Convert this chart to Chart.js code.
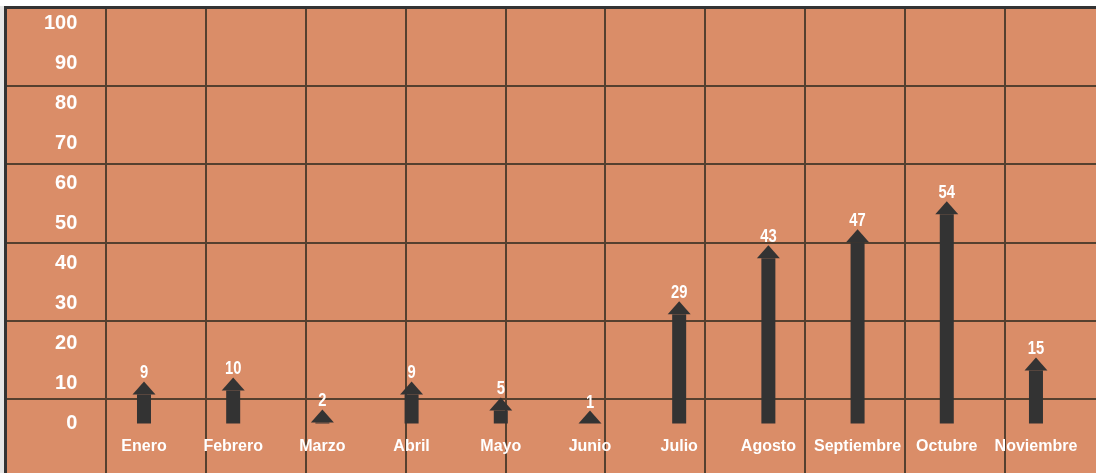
<!DOCTYPE html>
<html>
<head>
<meta charset="utf-8">
<script src="https://cdn.jsdelivr.net/npm/chart.js@4.4.1/dist/chart.umd.min.js"></script>
<style>
  html, body { margin: 0; padding: 0; background: #fff; }
  #wrap { width: 1096px; height: 473px; }
</style>
</head>
<body>
<div id="wrap"><canvas id="grafico"></canvas></div>
<script>
const meses = ['Enero', 'Febrero', 'Marzo', 'Abril', 'Mayo', 'Junio', 'Julio', 'Agosto', 'Septiembre', 'Octubre', 'Noviembre'];
const valores = [9, 10, 2, 9, 5, 1, 29, 43, 47, 54, 15];
const ticksY = [0, 10, 20, 30, 40, 50, 60, 70, 80, 90, 100];

const fuente = "'Liberation Sans', Arial, sans-serif";
const naranja = '#da8d68';
const gris = '#333333';
const rejilla = '#55402f';

// fondo naranja y marco
const fondo = {
    id: 'fondo',
    beforeDraw(chart) {
        const ctx = chart.ctx;
        ctx.save();
        ctx.fillStyle = '#ffffff';
        ctx.fillRect(0, 0, chart.width, chart.height);
        ctx.fillStyle = '#e6e6e6';
        ctx.fillRect(0, 6, 5, chart.height);
        ctx.fillStyle = naranja;
        ctx.fillRect(6, 8, chart.width - 6, chart.height - 8);
        ctx.restore();
    },
    afterDraw(chart) {
        const ctx = chart.ctx;
        ctx.save();
        ctx.strokeStyle = gris;
        ctx.lineWidth = 3;
        ctx.beginPath();
        ctx.moveTo(5.5, chart.height);
        ctx.lineTo(5.5, 7.5);
        ctx.lineTo(chart.width, 7.5);
        ctx.stroke();
        ctx.restore();
    }
};

// flechas encima de las barras
const flechas = {
    id: 'flechas',
    afterDatasetsDraw(chart) {
        const ctx = chart.ctx;
        const meta = chart.getDatasetMeta(0);
        ctx.save();
        meta.data.forEach((bar, i) => {
            const x = bar.x;
            const base = bar.base;
            const punta = Math.min(bar.y - 6, base - 13);
            ctx.fillStyle = gris;
            if (base - punta > 13) {
                ctx.fillRect(x - 7, punta + 13, 14, base - punta - 13);
            }
            ctx.beginPath();
            ctx.moveTo(x, punta);
            ctx.lineTo(x - 11.5, punta + 13);
            ctx.lineTo(x + 11.5, punta + 13);
            ctx.closePath();
            ctx.fill();
            // etiqueta estrecha
            ctx.save();
            ctx.translate(x, punta - 3);
            ctx.scale(0.82, 1);
            ctx.fillStyle = '#ffffff';
            ctx.font = 'bold 18px ' + fuente;
            ctx.textAlign = 'center';
            ctx.textBaseline = 'alphabetic';
            ctx.fillText(String(valores[i]), 0, 0);
            ctx.restore();
        });
        ctx.restore();
    }
};

new Chart(document.getElementById('grafico').getContext('2d'), {
    type: 'bar',
    data: {
        datasets: [{
            data: valores.map((v, i) => ({ x: i, y: v })),
            backgroundColor: 'rgba(0,0,0,0)',
            barThickness: 14,
            xAxisID: 'x',
            yAxisID: 'y'
        }]
    },
    options: {
        responsive: true,
        maintainAspectRatio: false,
        animation: false,
        layout: { padding: { left: 6, top: 8, right: 0, bottom: 0 } },
        plugins: {
            legend: { display: false },
            tooltip: { enabled: false }
        },
        scales: {
            x: {
                type: 'linear',
                position: 'bottom',
                offset: false,
                min: -1.547,
                max: 10.673,
                afterBuildTicks: s => { s.ticks = meses.map((m, i) => ({ value: i })); },
                afterFit: s => { s.height = 0; s.paddingLeft = 0; s.paddingRight = 0; },
                grid: { display: false, drawTicks: false, offset: false },
                border: { display: false },
                ticks: {
                    mirror: true,
                    autoSkip: false,
                    maxRotation: 0,
                    padding: 16.9,
                    color: '#ffffff',
                    font: { family: fuente, size: 16, weight: 'bold' },
                    callback: (v, i) => meses[i]
                }
            },
            xg: {
                type: 'linear',
                position: 'top',
                offset: false,
                min: 0,
                max: 10.91,
                afterFit: s => { s.height = 0; s.paddingLeft = 0; s.paddingRight = 0; },
                grid: { color: rejilla, lineWidth: 2, drawTicks: false, offset: false },
                border: { display: false },
                ticks: { display: false, stepSize: 1, includeBounds: false }
            },
            y: {
                type: 'linear',
                position: 'left',
                min: -12.36,
                max: 103.75,
                afterBuildTicks: s => { s.ticks = ticksY.map(v => ({ value: v })); },
                afterFit: s => { s.width = 0; s.paddingTop = 0; s.paddingBottom = 0; },
                grid: { display: false, drawTicks: false },
                border: { display: false },
                ticks: {
                    mirror: true,
                    crossAlign: 'far',
                    padding: 38,
                    color: '#ffffff',
                    font: { family: fuente, size: 20, weight: 'bold' }
                }
            },
            yg: {
                type: 'linear',
                position: 'right',
                reverse: true,
                min: 0,
                max: 5.946,
                afterFit: s => { s.width = 0; s.paddingTop = 0; s.paddingBottom = 0; },
                grid: { color: rejilla, lineWidth: 2, drawTicks: false },
                border: { display: false },
                ticks: { display: false, stepSize: 1, includeBounds: false }
            }
        }
    },
    plugins: [fondo, flechas]
});
</script>
</body>
</html>
